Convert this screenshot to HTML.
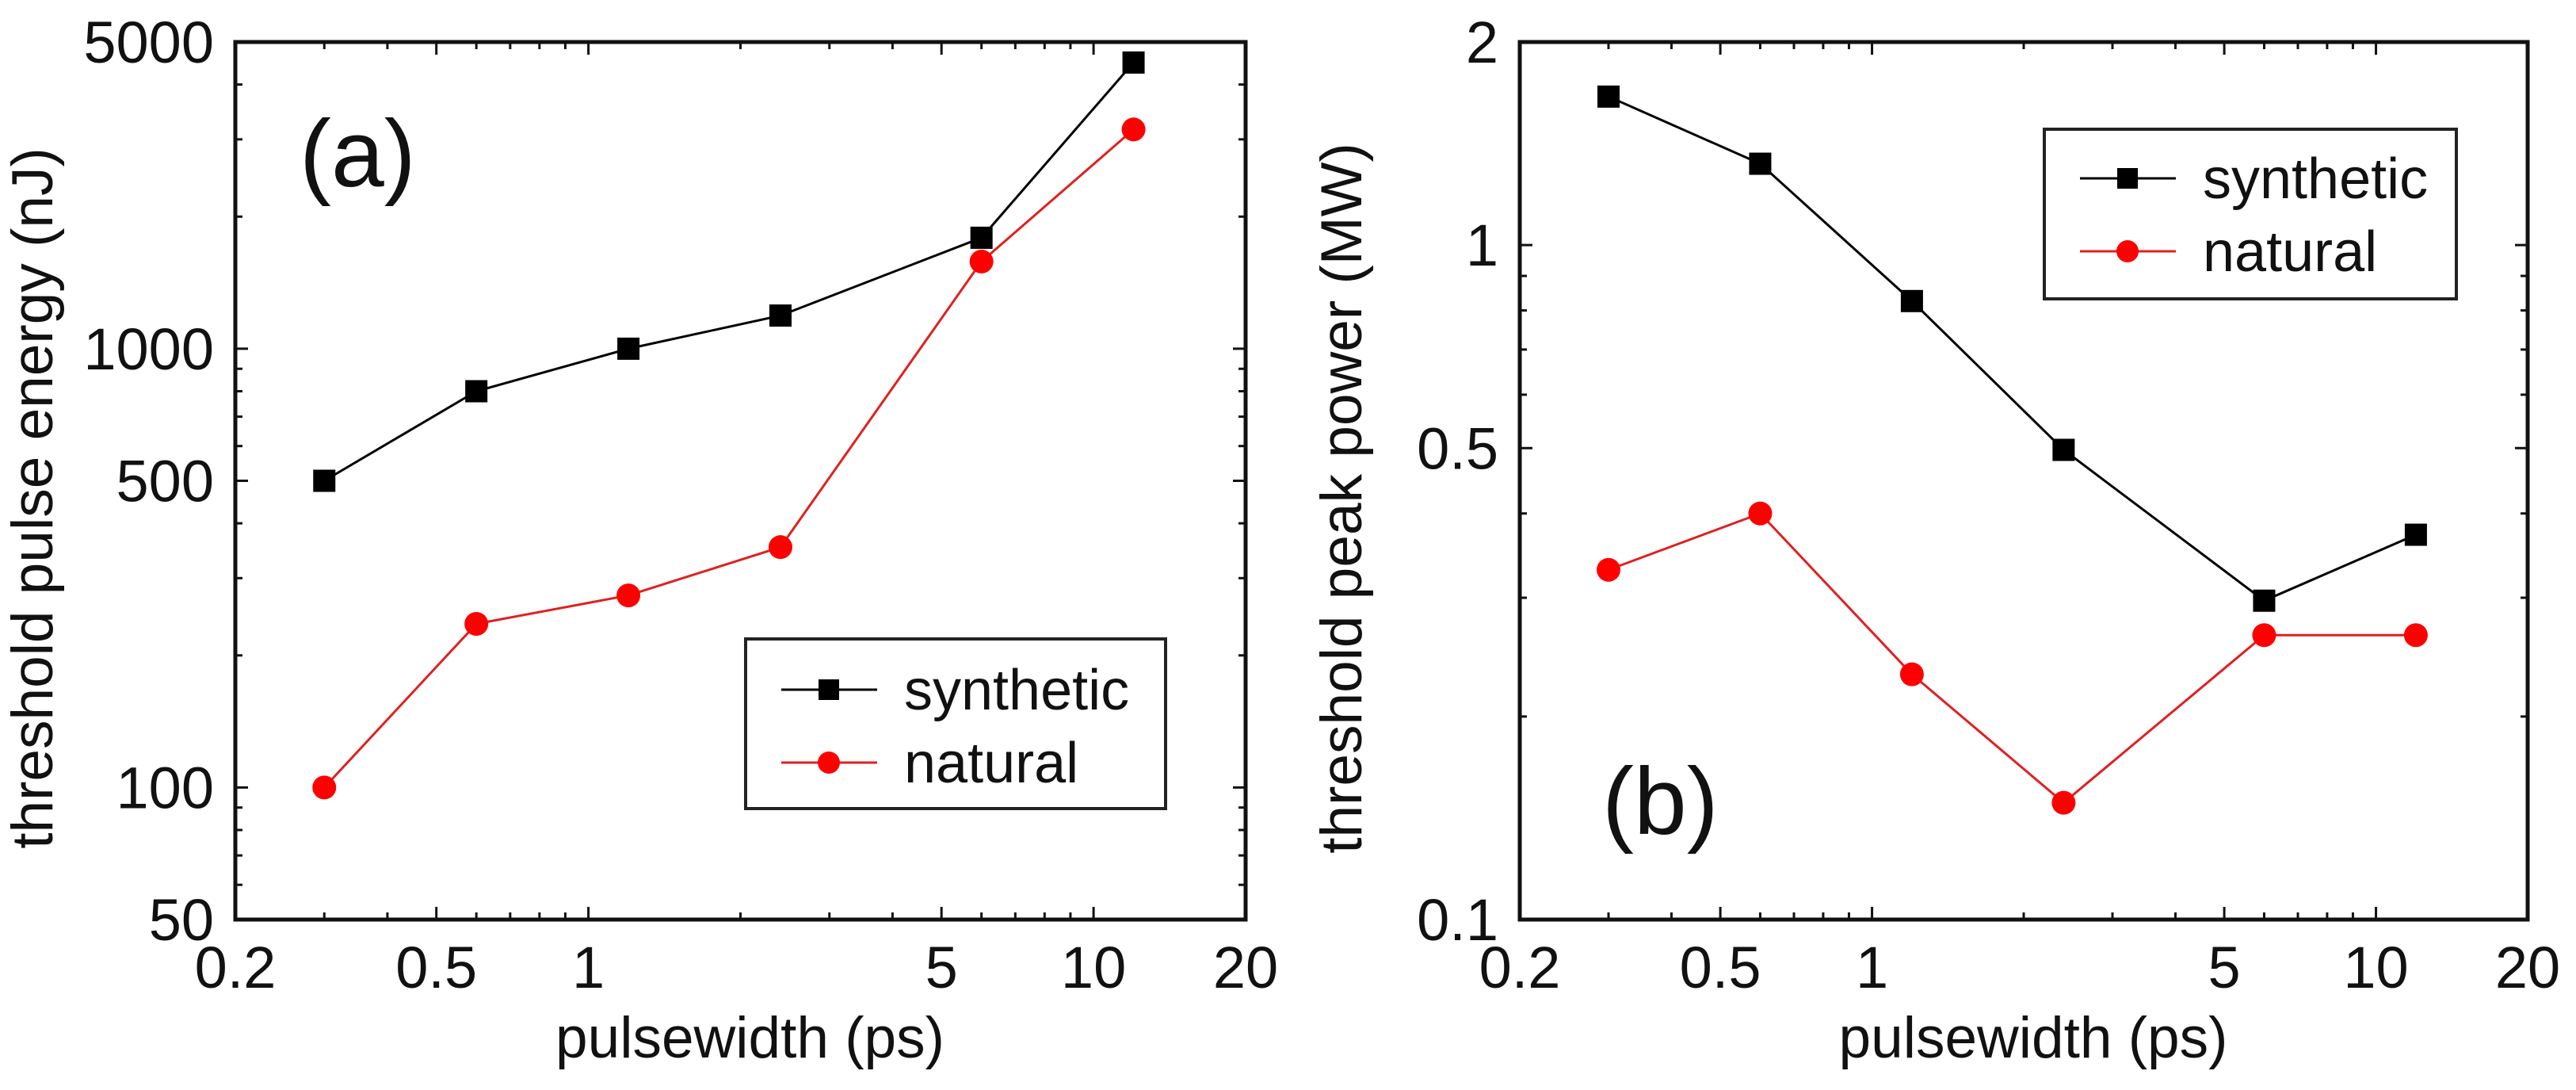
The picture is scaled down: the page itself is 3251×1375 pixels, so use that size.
<!DOCTYPE html>
<html><head><meta charset="utf-8"><style>
html,body{margin:0;padding:0;background:#fff}
svg{display:block}
text{font-family:"Liberation Sans",Arial,sans-serif;fill:#111}
</style></head><body>
<svg id="chart" width="3251" height="1375" viewBox="0 0 3251 1375" xmlns="http://www.w3.org/2000/svg"></svg>
<script>
const pulsewidths = [0.3, 0.6, 1.2, 2.4, 6, 12];
const energySynthetic = [500, 800, 1000, 1190, 1790, 4490];
const energyNatural = [100, 236, 274, 353, 1580, 3160];
const powerSynthetic = [1.66, 1.32, 0.826, 0.497, 0.297, 0.372];
const powerNatural = [0.33, 0.40, 0.231, 0.149, 0.264, 0.264];
const xTicks = [0.2, 0.5, 1, 5, 10, 20];
const xTickLabels = ["0.2", "0.5", "1", "5", "10", "20"];
const yTicksA = [50, 100, 500, 1000, 5000];
const yTickLabelsA = ["50", "100", "500", "1000", "5000"];
const yTicksB = [0.1, 0.5, 1, 2];
const yTickLabelsB = ["0.1", "0.5", "1", "2"];

const NS = "http://www.w3.org/2000/svg";
const svg = document.getElementById('chart');
function mk(tag, attrs, parent) {
  const e = document.createElementNS(NS, tag);
  for (const k in attrs) e.setAttribute(k, attrs[k]);
  (parent || svg).appendChild(e);
  return e;
}
function minorList(lo, hi) {
  const out = [];
  let d = Math.pow(10, Math.floor(Math.log10(lo)));
  for (; d <= hi; d *= 10) for (let m = 1; m < 10; m++) { const v = m * d; if (v >= lo * 0.999 && v <= hi * 1.001) out.push(v); }
  return out;
}
function panel(cfg) {
  const g = mk('g', {});
  
  
  const {L, R, T, B, xmin, xmax, ymin, ymax} = cfg;
  const sx = v => L + Math.log(v / xmin) / Math.log(xmax / xmin) * (R - L);
  const sy = v => B - Math.log(v / ymin) / Math.log(ymax / ymin) * (B - T);
  // minor ticks
  const xm = minorList(xmin, xmax), ym = minorList(ymin, ymax);
  xm.forEach(v => {
    const major = xTicks.includes(v);
    const len = major ? 16 : 9;
    const x = sx(v);
    const t1 = mk('line', {x1: x, y1: B, x2: x, y2: B - len, stroke: '#111', 'stroke-width': 3}, g);
    
    
    const t2 = mk('line', {x1: x, y1: T, x2: x, y2: T + len, stroke: '#111', 'stroke-width': 3}, g);
    
    
  });
  ym.forEach(v => {
    const major = cfg.yTicks.includes(v);
    const len = major ? 16 : 9;
    const y = sy(v);
    const t1 = mk('line', {x1: L, y1: y, x2: L + len, y2: y, stroke: '#111', 'stroke-width': 3}, g);
    
    
    const t2 = mk('line', {x1: R, y1: y, x2: R - len, y2: y, stroke: '#111', 'stroke-width': 3}, g);
    
    
  });
  const frame = mk('rect', {x: L, y: T, width: R - L, height: B - T, fill: 'none', stroke: '#111', 'stroke-width': 5}, g);
  
  
  xTicks.forEach((v, i) => {
    const t = mk('text', {x: sx(v), y: B + 86, 'font-size': 74, 'text-anchor': 'middle'}, g);
    t.textContent = xTickLabels[i];
    
    
  });
  cfg.yTicks.forEach((v, i) => {
    const t = mk('text', {x: L - 27, y: sy(v) + 26, 'font-size': 74, 'text-anchor': 'end'}, g);
    t.textContent = cfg.yLabels[i];
    
    
  });
  const xt = mk('text', {x: (L + R) / 2 + 12, y: B + 174, 'font-size': 73, 'text-anchor': 'middle'}, g);
  xt.textContent = 'pulsewidth (ps)';
  
  
  const yt = mk('text', {x: 0, y: 0, 'font-size': 73, 'text-anchor': 'middle', transform: `translate(${cfg.ytx},${(T + B) / 2 + 22}) rotate(-90)`}, g);
  yt.textContent = cfg.ytitle;
  
  
  const pl = mk('text', {x: cfg.plx, y: cfg.ply, 'font-size': 120, 'font-family': '"DejaVu Sans","Liberation Sans",sans-serif'}, g);
  pl.textContent = cfg.plabel;
  
  
  // series
  const series = [{vals: cfg.syn, color: '#000', shape: 'sq', nm: 'synthetic'}, {vals: cfg.nat, color: '#ff0000', shape: 'ci', nm: 'natural'}];
  series.forEach(s => {
    const pts = pulsewidths.map((x, i) => sx(x) + ',' + sy(s.vals[i])).join(' ');
    const pl2 = mk('polyline', {points: pts, fill: 'none', stroke: s.color === '#000' ? '#000' : '#e02020', 'stroke-width': 3}, g);
    
    
    pulsewidths.forEach((x, i) => {
      let m;
      if (s.shape === 'sq') m = mk('rect', {x: sx(x) - 14, y: sy(s.vals[i]) - 14, width: 28, height: 28, fill: '#000'}, g);
      else m = mk('circle', {cx: sx(x), cy: sy(s.vals[i]), r: 15, fill: '#ff0000'}, g);
      
      
    });
  });
  // legend
  const lg = mk('g', {}, g);
  
  
  const Lg = cfg.legend;
  mk('rect', {x: Lg.x, y: Lg.y, width: Lg.w, height: Lg.h, fill: '#fff', stroke: '#222', 'stroke-width': 4}, lg);
  series.forEach((s, i) => {
    const ry = Lg.y + Lg.r0 + i * 92;
    const ent = mk('g', {}, lg);
    
    
    mk('line', {x1: Lg.x + 45, y1: ry, x2: Lg.x + 166, y2: ry, stroke: s.color === '#000' ? '#000' : '#e02020', 'stroke-width': 3}, ent);
    if (s.shape === 'sq') mk('rect', {x: Lg.x + 92, y: ry - 13, width: 26, height: 26, fill: '#000'}, ent);
    else mk('circle', {cx: Lg.x + 105, cy: ry, r: 14, fill: '#ff0000'}, ent);
    const t = mk('text', {x: Lg.x + 200, y: ry + 25, 'font-size': 72}, ent);
    t.textContent = s.nm;
  });
}
panel({name: 'panel-a', L: 297, R: 1572, T: 53, B: 1160, xmin: 0.2, xmax: 20, ymin: 50, ymax: 5000,
  yTicks: yTicksA, yLabels: yTickLabelsA, syn: energySynthetic, nat: energyNatural,
  ytitle: 'threshold pulse energy (nJ)', ytx: 66, plabel: '(a)', plx: 378, ply: 235,
  legend: {x: 941, y: 806, w: 530, h: 214, r0: 64}});
panel({name: 'panel-b', L: 1918, R: 3190, T: 53, B: 1160, xmin: 0.2, xmax: 20, ymin: 0.1, ymax: 2,
  yTicks: yTicksB, yLabels: yTickLabelsB, syn: powerSynthetic, nat: powerNatural,
  ytitle: 'threshold peak power (MW)', ytx: 1718, plabel: '(b)', plx: 2022, ply: 1052,
  legend: {x: 2580, y: 163, w: 520, h: 214, r0: 62}});
</script>
</body></html>
